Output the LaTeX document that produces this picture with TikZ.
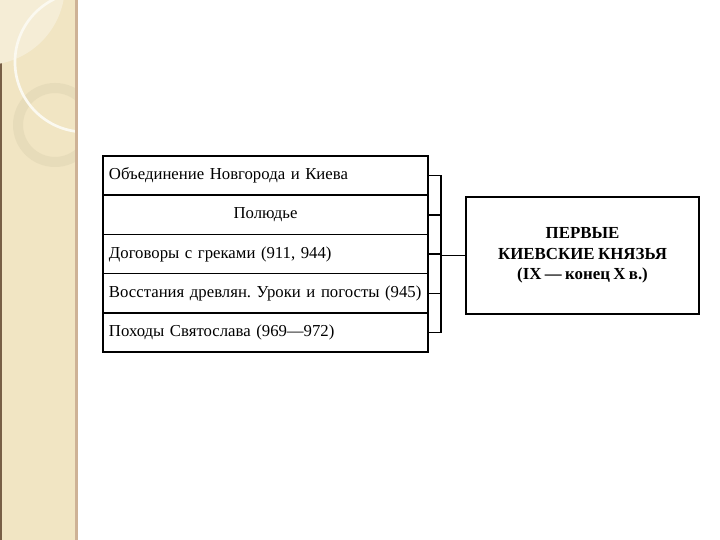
\documentclass[tikz,border=0pt]{standalone}
\usepackage{fontspec}
\setmainfont[WordSpace=0.8]{Liberation Serif}
\frenchspacing
\definecolor{stripfill}{RGB}{241,229,195}
\definecolor{stripedge}{RGB}{206,178,150}
\definecolor{stripring}{RGB}{231,220,186}
\definecolor{striplight}{RGB}{245,237,214}
\definecolor{stripdark}{RGB}{120,95,70}

\begin{document}
\begin{tikzpicture}[x=1in,y=1in,
  row/.style={draw=black, line width=1.1pt, minimum width=3.385in, minimum height=0.4085in,
    text width=235.7pt, inner xsep=4pt, align=left, font=\fontsize{12.6}{14}\selectfont},
  title/.style={draw=black, line width=1.1pt, minimum width=2.427in, minimum height=1.219in,
    align=center, font=\bfseries\fontsize{12.7}{15.2}\selectfont},
  link/.style={black, line width=1.1pt}]
\useasboundingbox (0,0) rectangle (7.5,-5.625);
\fill[white] (0,0) rectangle (7.5,-5.625);
\fill[stripfill] (0,0) rectangle (0.781,-5.625);
\fill[stripdark] (0,0) rectangle (0.02,-5.625);
\begin{scope}
\clip (0,0) rectangle (0.781,-5.625);
\fill[striplight] (-0.156,0.156) circle (0.833);
\fill[stripring, even odd rule] (0.573,-1.302) circle (0.4375) (0.573,-1.302) circle (0.333);
\draw[white!75!stripfill, line width=2pt] (0.885,-0.646) circle (0.729);
\end{scope}
\fill[stripedge] (0.785,0) rectangle (0.81,-5.625);
\node[row] (r1) at (2.766,-1.829) {Объединение Новгорода и Киева};
\node[row, align=center] (r2) at (2.766,-2.238) {Полюдье};
\node[row] (r3) at (2.766,-2.646) {Договоры с греками (911, 944)};
\node[row] (r4) at (2.766,-3.055) {Восстания древлян. Уроки и погосты (945)};
\node[row] (r5) at (2.766,-3.463) {Походы Святослава (969—972)};
\node[title] (kn) at (6.068,-2.66) {ПЕРВЫЕ\\КИЕВСКИЕ КНЯЗЬЯ\\(IX — конец X в.)};
\coordinate (hub) at (4.594,-2.66);
\foreach \r in {r1,r2,r4,r5} \draw[link] (\r.east) -| (hub);
\draw[link] (r3.east) -| (hub);
\draw[link] (hub) -- (kn.west);
\end{tikzpicture}
\end{document}
